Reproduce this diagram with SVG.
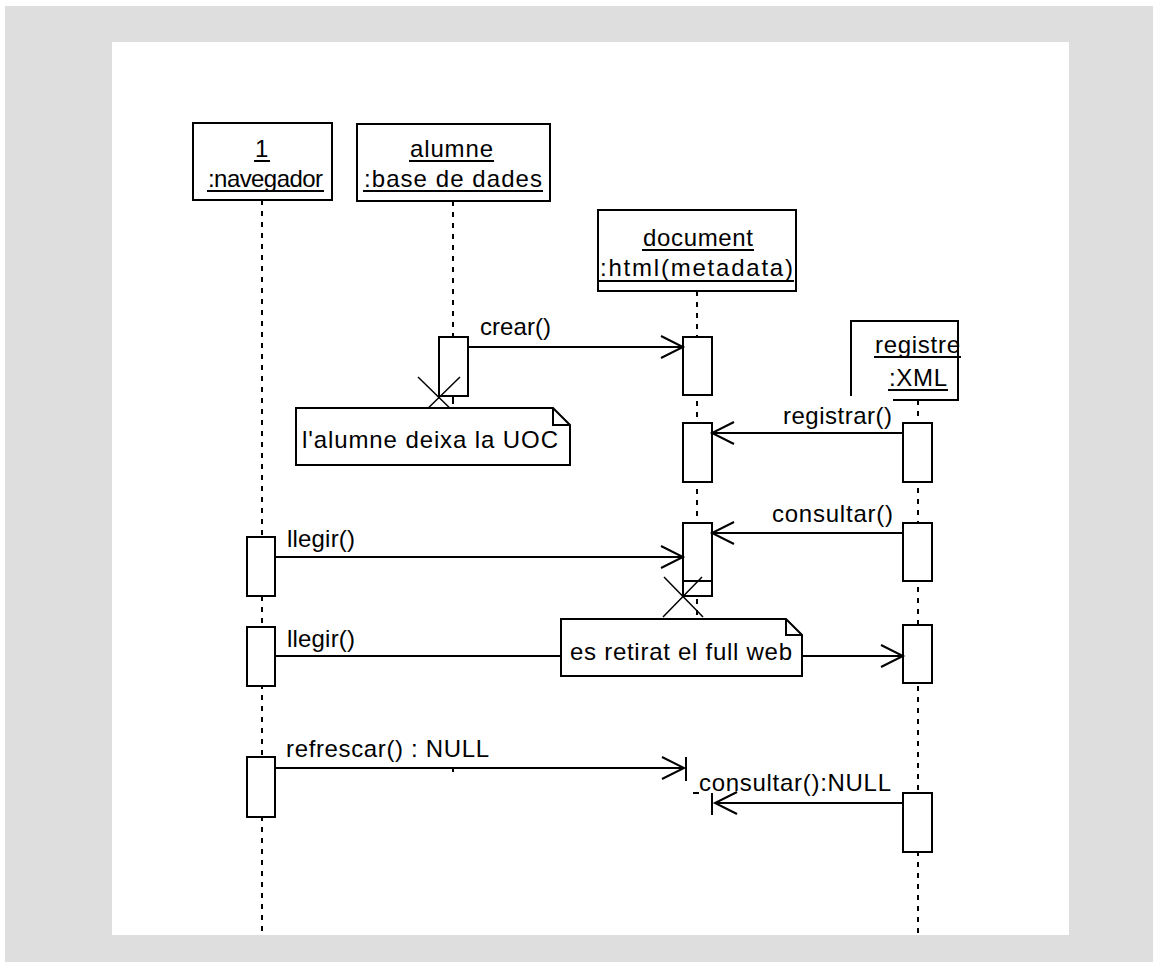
<svg xmlns="http://www.w3.org/2000/svg" width="1153" height="962" viewBox="0 0 1153 962">
<style>
.t{font-family:"Liberation Sans",Arial,sans-serif;font-size:24px;fill:#000}
.box{fill:#fff;stroke:#000;stroke-width:2}
.ln{fill:none;stroke:#000;stroke-width:2}
.ll{fill:none;stroke:#000;stroke-width:2;stroke-dasharray:5 6}
.x{fill:none;stroke:#000;stroke-width:1.5}
</style>
<defs>
<marker id="open" markerUnits="userSpaceOnUse" markerWidth="28" markerHeight="26" refX="24" refY="12" orient="auto">
<path d="M2,1 L24,12 L2,23" fill="none" stroke="#000" stroke-width="2"/>
</marker>
</defs>
<rect width="1153" height="962" fill="#fff"/>
<rect x="5" y="6" width="1148" height="956" fill="#dedede"/>
<rect x="112" y="42" width="957" height="893" fill="#fff"/>

<g id="lifelines">
<line class="ll" x1="262" y1="200" x2="262" y2="935"/>
<line class="ll" x1="453" y1="201" x2="453" y2="337"/>
<line class="ln" x1="453" y1="396" x2="453" y2="404"/>
<line class="ll" x1="697" y1="291" x2="697" y2="617"/>
<line class="ll" x1="918" y1="400" x2="918" y2="935"/>
</g>

<g id="navegador">
<rect class="box" x="193" y="123" width="139" height="77"/>
<text class="t" x="255" y="157" textLength="13">1</text>
<line class="ln" x1="254" y1="161" x2="270" y2="161"/>
<text class="t" x="208" y="187" textLength="115">:navegador</text>
<line class="ln" x1="207" y1="191" x2="324" y2="191"/>
</g>

<g id="alumne">
<rect class="box" x="357" y="124" width="193" height="77"/>
<text class="t" x="410" y="157" textLength="83">alumne</text>
<line class="ln" x1="409" y1="161" x2="494" y2="161"/>
<text class="t" x="364" y="187" textLength="178">:base de dades</text>
<line class="ln" x1="363" y1="191" x2="543" y2="191"/>
</g>

<g id="document">
<rect class="box" x="598" y="210" width="198" height="81"/>
<text class="t" x="643" y="246" textLength="110">document</text>
<line class="ln" x1="642" y1="250" x2="754" y2="250"/>
<text class="t" x="600" y="276" textLength="193">:html(metadata)</text>
<line class="ln" x1="599" y1="281" x2="794" y2="281"/>
</g>

<g id="registre">
<rect class="box" x="851" y="321" width="107" height="79"/>
<text class="t" x="875" y="353" textLength="85">registre</text>
<line class="ln" x1="874" y1="357" x2="961" y2="357"/>
<text class="t" x="889" y="386" textLength="58">:XML</text>
<line class="ln" x1="888" y1="390" x2="948" y2="390"/>
</g>

<g id="activations">
<rect class="box" x="439" y="337" width="29" height="59"/>
<rect class="box" x="683" y="337" width="29" height="58"/>
<rect class="box" x="683" y="423" width="29" height="59"/>
<rect class="box" x="683" y="523" width="29" height="73"/>
<line class="ln" x1="683" y1="581" x2="712" y2="581"/>
<rect class="box" x="903" y="423" width="29" height="59"/>
<rect class="box" x="903" y="523" width="29" height="58"/>
<rect class="box" x="903" y="625" width="29" height="58"/>
<rect class="box" x="903" y="793" width="29" height="59"/>
<rect class="box" x="247" y="537" width="28" height="59"/>
<rect class="box" x="247" y="627" width="28" height="59"/>
<rect class="box" x="247" y="757" width="28" height="60"/>
</g>

<g id="destroy">
<path class="x" d="M418,377 L460,418 M460,377 L418,418"/>
<path class="x" d="M664,577 L703,617 M702,577 L663,617"/>
</g>

<g id="connectors">
<line class="ln" x1="468" y1="347" x2="683" y2="347" marker-end="url(#open)"/>
<text class="t" x="480" y="335" textLength="71">crear()</text>
<line class="ln" x1="903" y1="433" x2="712" y2="433" marker-end="url(#open)"/>
<rect x="779" y="396" width="114" height="32" fill="#fff"/>
<text class="t" x="783" y="424" textLength="109">registrar()</text>
<line class="ln" x1="903" y1="533" x2="712" y2="533" marker-end="url(#open)"/>
<text class="t" x="772" y="522" textLength="121">consultar()</text>
<line class="ln" x1="275" y1="557" x2="683" y2="557" marker-end="url(#open)"/>
<text class="t" x="287" y="547" textLength="68">llegir()</text>
<line class="ln" x1="275" y1="656" x2="903" y2="656" marker-end="url(#open)"/>
<text class="t" x="287" y="647" textLength="68">llegir()</text>
<line class="ln" x1="275" y1="768" x2="684" y2="768" marker-end="url(#open)"/>
<line class="ln" x1="686" y1="757" x2="686" y2="781"/>
<line class="ln" x1="453" y1="768" x2="453" y2="772"/>
<text class="t" x="286" y="757" textLength="203">refrescar() : NULL</text>
<line class="ln" x1="903" y1="803" x2="715" y2="803" marker-end="url(#open)"/>
<line class="ln" x1="712" y1="793" x2="712" y2="815"/>
<line class="ln" x1="693" y1="793" x2="699" y2="793"/>
<text class="t" x="699" y="791" textLength="192">consultar():NULL</text>
</g>

<g id="note1">
<path class="box" d="M296,408 H553 L570,425 V465 H296 Z"/>
<path class="ln" d="M553,408 V425 H570"/>
<text class="t" x="302" y="448" textLength="256">l'alumne deixa la UOC</text>
</g>

<g id="note2">
<path class="box" d="M561,619 H786 L802,635 V676 H561 Z"/>
<path class="ln" d="M786,619 V635 H802"/>
<text class="t" x="570" y="660" textLength="222">es retirat el full web</text>
</g>
</svg>
